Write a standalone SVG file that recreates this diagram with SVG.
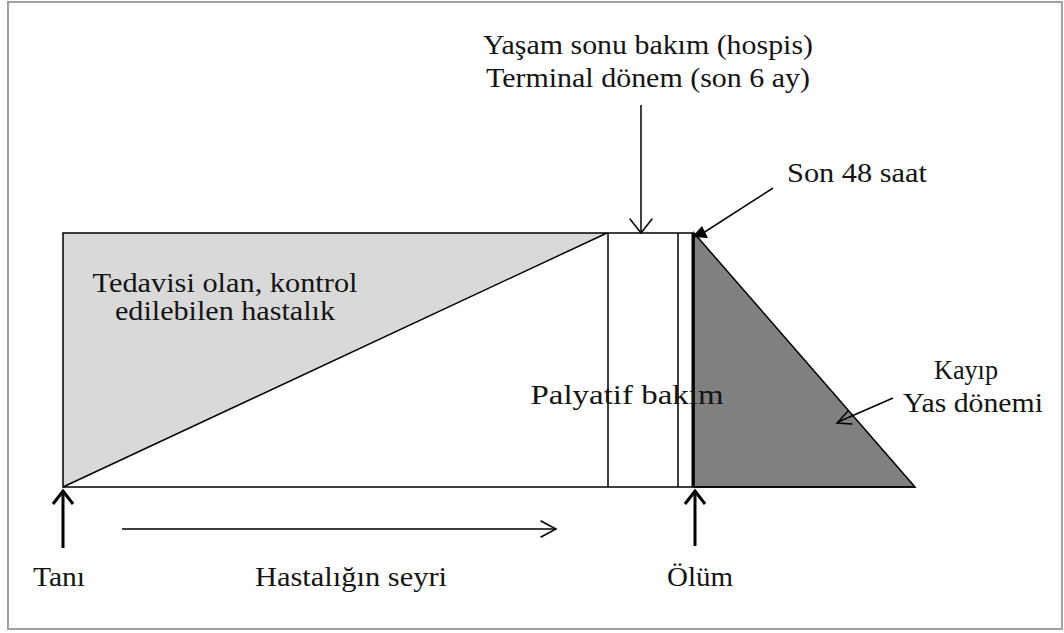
<svg xmlns="http://www.w3.org/2000/svg" width="1064" height="633" viewBox="0 0 1064 633">
<defs>
<style>
.t{font-size:28px;fill:#141414}
.ln{stroke:#000;stroke-width:1.5;fill:none}
.thick{stroke:#000;stroke-width:3;fill:none}
.vh{stroke:#000;stroke-width:1.5;fill:none;stroke-linecap:round;stroke-linejoin:miter}
.vh3{stroke:#000;stroke-width:3;fill:none;stroke-linejoin:miter}
</style>
</defs>
<rect x="8" y="2" width="1054" height="627" fill="#fff" stroke="#a0a0a0" stroke-width="2"/>
<g font-family="Liberation Serif, Times New Roman, Times, Tinos, Noto Serif, DejaVu Serif, serif">
<g id="curative">
<polygon points="63,233 607,233 63,487" fill="#d9d9d9"/>
<text class="t" x="225" y="292" text-anchor="middle" textLength="265" lengthAdjust="spacingAndGlyphs">Tedavisi olan, kontrol</text>
<text class="t" x="225" y="320" text-anchor="middle" textLength="220" lengthAdjust="spacingAndGlyphs">edilebilen hastalık</text>
</g>
<g id="bereavement">
<polygon points="694,233 694,487 915,487" fill="#808080" stroke="#000" stroke-width="1.5" stroke-linejoin="miter"/>
<text class="t" x="966" y="379" text-anchor="middle" textLength="64" lengthAdjust="spacingAndGlyphs">Kayıp</text>
<text class="t" x="973" y="412" text-anchor="middle" textLength="140" lengthAdjust="spacingAndGlyphs">Yas dönemi</text>
</g>
<g id="death-line">
<line class="thick" x1="693" y1="233" x2="693" y2="487"/>
</g>
<g id="palliative">
<polyline class="ln" points="693,233 63,233 63,487 915,487"/>
<line class="ln" x1="63" y1="487" x2="607" y2="233"/>
<line class="ln" x1="608" y1="233" x2="608" y2="487"/>
<line class="ln" x1="678" y1="233" x2="678" y2="487"/>
<text class="t" x="627" y="404" text-anchor="middle" textLength="193" lengthAdjust="spacingAndGlyphs">Palyatif bakım</text>
</g>
<g id="hospice-label">
<text class="t" x="648" y="54" text-anchor="middle" textLength="330" lengthAdjust="spacingAndGlyphs">Yaşam sonu bakım (hospis)</text>
<text class="t" x="648" y="87" text-anchor="middle" textLength="324" lengthAdjust="spacingAndGlyphs">Terminal dönem (son 6 ay)</text>
</g>
<g id="last48-label">
<text class="t" x="787" y="182" textLength="140" lengthAdjust="spacingAndGlyphs">Son 48 saat</text>
</g>
<g id="tani-label"><text class="t" x="59" y="586" text-anchor="middle" textLength="52" lengthAdjust="spacingAndGlyphs">Tanı</text></g>
<g id="course-label"><text class="t" x="351" y="586" text-anchor="middle" textLength="192" lengthAdjust="spacingAndGlyphs">Hastalığın seyri</text></g>
<g id="olum-label"><text class="t" x="700" y="586" text-anchor="middle" textLength="66" lengthAdjust="spacingAndGlyphs">Ölüm</text></g>
</g>
<g id="connectors">
<line class="ln" x1="641" y1="105" x2="641" y2="232"/>
<polyline class="vh" points="630,219 641,233 652,219"/>
<line class="ln" x1="773" y1="188" x2="700" y2="235"/>
<polygon points="692,237 702,226 708,238" fill="#000"/>
<line class="thick" x1="63" y1="548" x2="63" y2="491"/>
<polyline class="vh3" points="53,504 63,491 73,504"/>
<line class="thick" x1="695" y1="546" x2="695" y2="491"/>
<polyline class="vh3" points="685,504 695,491 705,504"/>
<line class="ln" x1="122" y1="529" x2="555" y2="529"/>
<polyline class="vh" points="541,521 556,529 541,537"/>
<line class="ln" x1="893" y1="398" x2="838" y2="422"/>
<polyline class="vh" points="848,411 837,423 852,424"/>
</g>
</svg>
